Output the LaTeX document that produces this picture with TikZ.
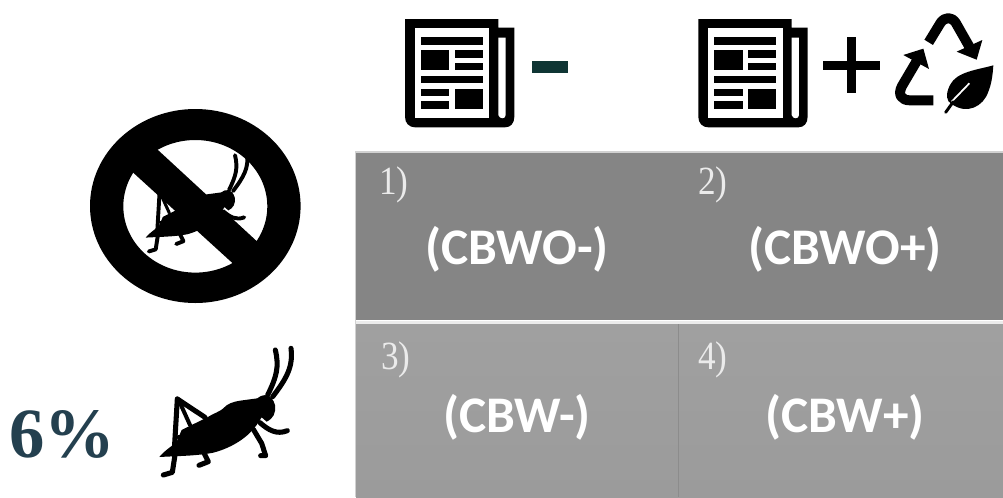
\documentclass[tikz,border=0pt]{standalone}
\usepackage{fontspec}
\setmainfont{Liberation Serif}
\newfontfamily\lblfont{Carlito}
\definecolor{topgrey}{HTML}{858585}
\definecolor{botgreyA}{HTML}{A0A0A0}
\definecolor{botgreyB}{HTML}{9B9B9B}
\definecolor{divgrey}{HTML}{8C8C8C}
\definecolor{pctblue}{HTML}{24404F}
\definecolor{minusgreen}{HTML}{0F3534}
\definecolor{numwhite}{HTML}{EBEBEB}
\tikzset{
  cond/.style={text=white,font=\lblfont\bfseries\fontsize{38.5}{38.5}\selectfont,inner sep=0pt},
  num/.style={text=numwhite,font=\fontsize{30}{30}\selectfont,inner sep=0pt,xscale=.88},
  pct/.style={text=pctblue,font=\bfseries\fontsize{53}{53}\selectfont,inner sep=0pt},
}
% #1,#2 shift, #3 scale: grasshopper, coordinates are 3x pixels
\newcommand{\hopper}[3]{%
\begin{scope}[shift={(#1,#2)},xscale=#3/3,yscale=#3/3,line cap=round,line join=round]
  \fill[black] (478,381) .. controls (495,360) and (515,350) .. (530,335)
    -- (545,300) -- (575,285)
    -- (622,262) .. controls (640,250) and (660,245) .. (670,235)
    .. controls (680,222) and (700,215) .. (720,212)
    -- (772,205) .. controls (790,190) and (815,190) .. (825,225)
    .. controls (828,250) and (820,265) .. (800,275)
    -- (785,262) -- (770,285)
    .. controls (745,320) and (700,352) .. (640,368)
    .. controls (590,378) and (530,378) .. (478,381) -- cycle;
  \begin{scope}[line width=#3*3.8pt]
    \draw (490,435) -- (517,427) -- (525,375);
    \draw (610,365) -- (625,395) -- (597,406);
    \draw (760,298) -- (785,340) -- (797,377) -- (782,377);
    \draw (780,278) .. controls (805,300) and (830,315) .. (862,302);
    \draw (803,195) .. controls (830,140) and (838,110) .. (826,60);
    \draw (818,200) .. controls (860,145) and (880,110) .. (873,55);
    \draw (522,375) -- (532,207);
    \draw (532,207) -- (615,262);
    \draw[line width=#3*3pt] (537,212) -- (570,285);
    \draw[line width=#3*3pt] (535,322) -- (555,322);
  \end{scope}
\end{scope}}
% #1 shift x: newspaper, coordinates are 3x pixels
\newcommand{\newspaper}[1]{%
\begin{scope}[shift={(#1,0)},xscale=1/3,yscale=1/3]
  \fill[black] (45,57) -- (325,57) -- (325,83) -- (373,83) -- (373,350)
     .. controls (373,370) and (362,382) .. (345,382) -- (75,382)
     .. controls (58,382) and (45,370) .. (45,350) -- cycle;
  \fill[white] (75,85) rectangle (298,355);
  \fill[white] (325,113) -- (347,113) -- (347,345) .. controls (347,358) and (328,358) .. (325,345) -- cycle;
  \fill[black] (92,112) rectangle (279,134);
  \fill[black] (92,151) rectangle (178,211);
  \fill[black] (194,151) rectangle (279,173);
  \fill[black] (194,189) rectangle (279,211);
  \fill[black] (92,227) rectangle (279,249);
  \fill[black] (92,266) rectangle (178,288);
  \fill[black] (92,304) rectangle (178,326);
  \fill[black] (194,266) rectangle (279,326);
\end{scope}}
\begin{document}
\begin{tikzpicture}[x=0.75pt,y=-0.75pt]
\useasboundingbox (0,0) rectangle (1003,497);
% panels
\fill[white] (0,0) rectangle (1003,497);
\fill[topgrey] (356,152) rectangle (1003,320);
\shade[top color=botgreyA,bottom color=botgreyB] (356,324) rectangle (1003,497);
\fill[black!18] (355,151) rectangle (1003,152.5);
\fill[black!18] (355,151) rectangle (356.2,497);
\fill[white!92!black] (356,320.5) rectangle (1003,323.5);
\fill[divgrey] (677.7,324) rectangle (679,497);
% labels
\node[num] (n1) at (394,185) {1)};
\node[num] (n2) at (713,185) {2)};
\node[num] (n3) at (396,360) {3)};
\node[num] (n4) at (713,360) {4)};
\node[cond] (c1) at (517,249) {(CBWO-)};
\node[cond] (c2) at (845,249) {(CBWO+)};
\node[cond] (c3) at (517,417) {(CBW-)};
\node[cond] (c4) at (845,417) {(CBW+)};
\node[pct] (pct) at (62,434) {6\%};
% newspapers
\newspaper{390}
\newspaper{683.3}
% minus
\fill[minusgreen] (531.7,61) rectangle (568.3,73.3);
% plus, recycle symbol (3x pixels)
\begin{scope}[shift={(690,0)},xscale=1/3,yscale=1/3]
  \fill[black] (400,182) rectangle (570,209);
  \fill[black] (471,112) rectangle (498,278);
  \draw[line width=7.5pt,line join=round] (716,127) -- (752,68) .. controls (765,50) and (785,50) .. (797,68) -- (838,140);
  \fill[black] (877,120) -- (860,179) -- (800,155) -- cycle;
  \draw[line width=7.5pt,line join=round] (730,301) -- (660,301) .. controls (635,301) and (622,285) .. (636,258) -- (682,180);
  \fill[black] (700,146) -- (717,207) -- (640,165) -- cycle;
  \fill[black] (910,196) .. controls (860,210) and (800,215) .. (780,255)
     .. controls (765,285) and (770,305) .. (785,312)
     .. controls (830,345) and (880,320) .. (895,275)
     .. controls (905,250) and (908,225) .. (910,196) -- cycle;
  \draw[white,line width=1.3pt] (838,250) -- (785,305);
  \draw[black,line width=2.2pt,line cap=round] (790,305) -- (767,337);
\end{scope}
% grasshoppers
\hopper{0}{330}{1}
\hopper{23}{139.8}{.77}
% prohibition sign
\fill[black,even odd rule] (195.3,206) ellipse [x radius=105.3,y radius=97]
   (195.3,206.3) ellipse [x radius=72,y radius=66.3];
\fill[black] (152,144.5) -- (262,246) -- (239,269) -- (127,167) -- cycle;
\end{tikzpicture}
\end{document}
